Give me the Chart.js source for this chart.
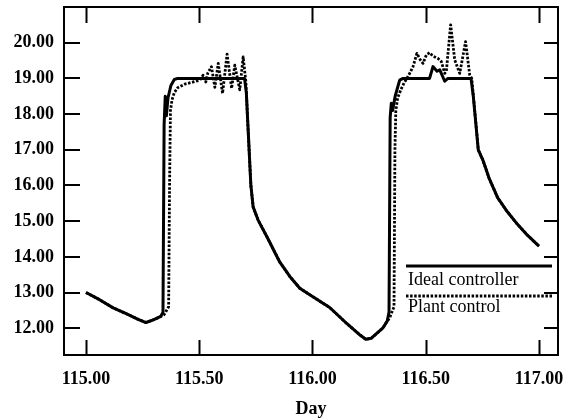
<!DOCTYPE html>
<html>
<head>
<meta charset="utf-8">
<script src="https://cdn.jsdelivr.net/npm/chart.js@4"></script>
<style>
  html, body { margin: 0; padding: 0; background: #fff; }
  #wrap { width: 569px; height: 418px; }
</style>
</head>
<body>
<div id="wrap"><canvas id="dayChart" width="569" height="418"></canvas></div>
<script>
// DATA
const xTicks = [115.0, 115.5, 116.0, 116.5, 117.0];
const yTicks = [12, 13, 14, 15, 16, 17, 18, 19, 20];

const idealDays = [
  115.000, 115.060, 115.120, 115.180, 115.230, 115.265, 115.300, 115.330,
  115.340, 115.345, 115.350, 115.355, 115.362, 115.375, 115.390, 115.405,
  115.700, 115.708, 115.728, 115.738, 115.760, 115.800, 115.856, 115.900,
  115.944, 116.000, 116.076, 116.150, 116.210, 116.235, 116.260, 116.310,
  116.330, 116.338, 116.343, 116.348, 116.354, 116.365, 116.385, 116.400,
  116.517, 116.532, 116.550, 116.562, 116.584, 116.598, 116.700, 116.710,
  116.732, 116.753, 116.780, 116.818, 116.856, 116.900, 116.950, 117.000,
];
const idealTemp = [
  13.00, 12.80, 12.57, 12.40, 12.25, 12.16, 12.24, 12.33,
  12.45, 17.70, 18.50, 17.95, 18.45, 18.80, 18.97, 19.00,
  19.00, 18.60, 16.00, 15.40, 15.03, 14.55, 13.85, 13.45,
  13.12, 12.89, 12.58, 12.14, 11.81, 11.69, 11.72, 12.00,
  12.20, 12.45, 17.90, 18.30, 18.10, 18.50, 18.95, 19.00,
  19.00, 19.33, 19.20, 19.24, 18.92, 19.00, 19.00, 18.50,
  17.00, 16.70, 16.20, 15.65, 15.30, 14.95, 14.60, 14.30,
];

const plantDays = [
  115.000, 115.060, 115.120, 115.180, 115.230, 115.265, 115.300, 115.330,
  115.345, 115.365, 115.369, 115.373, 115.380, 115.390, 115.405, 115.437,
  115.474, 115.503, 115.517, 115.529, 115.538, 115.554, 115.569, 115.584,
  115.603, 115.623, 115.643, 115.657, 115.679, 115.694, 115.706, 115.714,
  115.728, 115.738, 115.760, 115.800, 115.856, 115.900, 115.944, 116.000,
  116.076, 116.150, 116.210, 116.235, 116.260, 116.310, 116.330, 116.340,
  116.360, 116.364, 116.368, 116.376, 116.390, 116.405, 116.412, 116.429,
  116.444, 116.461, 116.476, 116.488, 116.503, 116.517, 116.532, 116.554,
  116.569, 116.584, 116.591, 116.610, 116.628, 116.650, 116.676, 116.694,
  116.703, 116.712, 116.732, 116.753, 116.780, 116.818, 116.856, 116.900,
  116.950, 117.000,
];
const plantTemp = [
  13.00, 12.80, 12.57, 12.40, 12.25, 12.16, 12.24, 12.33,
  12.38, 12.60, 16.00, 18.10, 18.40, 18.60, 18.74, 18.84,
  18.90, 18.95, 19.09, 18.90, 19.15, 19.33, 18.75, 19.42,
  18.58, 19.68, 18.72, 19.37, 18.68, 19.60, 18.90, 17.80,
  16.00, 15.40, 15.03, 14.55, 13.85, 13.45, 13.12, 12.89,
  12.58, 12.14, 11.81, 11.69, 11.72, 12.00, 12.20, 12.28,
  12.60, 17.00, 18.10, 18.45, 18.68, 18.88, 18.95, 19.14,
  19.33, 19.70, 19.52, 19.42, 19.66, 19.72, 19.62, 19.56,
  19.47, 19.14, 19.20, 20.50, 19.52, 19.14, 20.03, 19.10,
  19.00, 18.40, 17.00, 16.70, 16.20, 15.65, 15.30, 14.95,
  14.60, 14.30,
];

const seriesNames = ["Ideal controller", "Plant control"];

const toPoints = (days, temps) => days.map((d, i) => ({ x: d, y: temps[i] }));

// frame with inward tick marks on all four sides
const frameTicks = {
  id: "frameTicks",
  afterDatasetsDraw(chart) {
    const { ctx, chartArea: a, scales } = chart;
    ctx.save();
    ctx.strokeStyle = "#000";
    ctx.lineWidth = 2;
    ctx.strokeRect(a.left, a.top, a.right - a.left, a.bottom - a.top);
    ctx.beginPath();
    xTicks.forEach((v) => {
      const px = Math.round(scales.x.getPixelForValue(v)) + 0.5;
      ctx.moveTo(px, a.bottom);
      ctx.lineTo(px, a.bottom - 15);
      ctx.moveTo(px, a.top);
      ctx.lineTo(px, a.top + 16);
    });
    yTicks.forEach((v) => {
      const py = Math.round(scales.y.getPixelForValue(v));
      ctx.moveTo(a.left, py);
      ctx.lineTo(a.left + 16, py);
      ctx.moveTo(a.right, py);
      ctx.lineTo(a.right - 14, py);
    });
    ctx.stroke();
    ctx.restore();
  },
};

// legend drawn inside the plot, lower right
const innerLegend = {
  id: "innerLegend",
  afterDatasetsDraw(chart) {
    const { ctx, chartArea: a } = chart;
    const x0 = a.left + 342;
    const x1 = a.right - 6;
    const rows = [
      { lineY: a.top + 259, textY: a.top + 278 },
      { lineY: a.top + 289, textY: a.top + 305 },
    ];
    ctx.save();
    chart.data.datasets.forEach((ds, i) => {
      const r = rows[i];
      ctx.strokeStyle = "#000";
      ctx.lineWidth = ds.borderWidth;
      ctx.setLineDash(ds.borderDash || []);
      ctx.beginPath();
      ctx.moveTo(x0, r.lineY);
      ctx.lineTo(x1, r.lineY);
      ctx.stroke();
      ctx.setLineDash([]);
      ctx.fillStyle = "#000";
      ctx.font = "18px 'Liberation Serif'";
      ctx.textAlign = "left";
      ctx.textBaseline = "alphabetic";
      ctx.fillText(ds.label, x0 + 2, r.textY);
    });
    ctx.restore();
  },
};

const tickFont = { family: "Liberation Serif", size: 18, weight: "bold" };

new Chart(document.getElementById("dayChart"), {
  type: "line",
  data: {
    datasets: [
      {
        label: seriesNames[0],
        data: toPoints(idealDays, idealTemp),
        borderColor: "#000",
        borderWidth: 3,
        borderJoinStyle: "round",
        pointRadius: 0,
        tension: 0,
      },
      {
        label: seriesNames[1],
        data: toPoints(plantDays, plantTemp),
        borderColor: "#000",
        borderWidth: 2.8,
        borderDash: [2.5, 1.6],
        borderJoinStyle: "round",
        pointRadius: 0,
        tension: 0,
      },
    ],
  },
  options: {
    responsive: false,
    animation: false,
    layout: { padding: { top: 7, right: 11, left: 0, bottom: 0 } },
    plugins: {
      legend: { display: false },
      tooltip: { enabled: false },
    },
    scales: {
      x: {
        type: "linear",
        min: 114.903,
        max: 117.084,
        grid: { display: false, drawTicks: false },
        border: { display: false },
        afterBuildTicks: (s) => { s.ticks = xTicks.map((v) => ({ value: v })); },
        afterFit: (s) => { s.height = 63; s.paddingLeft = 0; s.paddingRight = 0; },
        ticks: {
          font: tickFont,
          color: "#000",
          padding: 14,
          maxRotation: 0,
          callback: (v) => Number(v).toFixed(2),
        },
        title: {
          display: true,
          text: "Day",
          color: "#000",
          font: { family: "Liberation Serif", size: 18, weight: "bold", lineHeight: 1 },
          padding: { top: 0, bottom: 0 },
        },
      },
      y: {
        min: 11.25,
        max: 21.0,
        grid: { display: false, drawTicks: false },
        border: { display: false },
        afterBuildTicks: (s) => { s.ticks = yTicks.map((v) => ({ value: v })); },
        afterFit: (s) => { s.width = 64; s.paddingTop = 0; s.paddingBottom = 0; },
        ticks: {
          font: tickFont,
          color: "#000",
          padding: 10,
          callback: (v) => Number(v).toFixed(2),
        },
      },
    },
  },
  plugins: [frameTicks, innerLegend],
});
</script>
</body>
</html>
